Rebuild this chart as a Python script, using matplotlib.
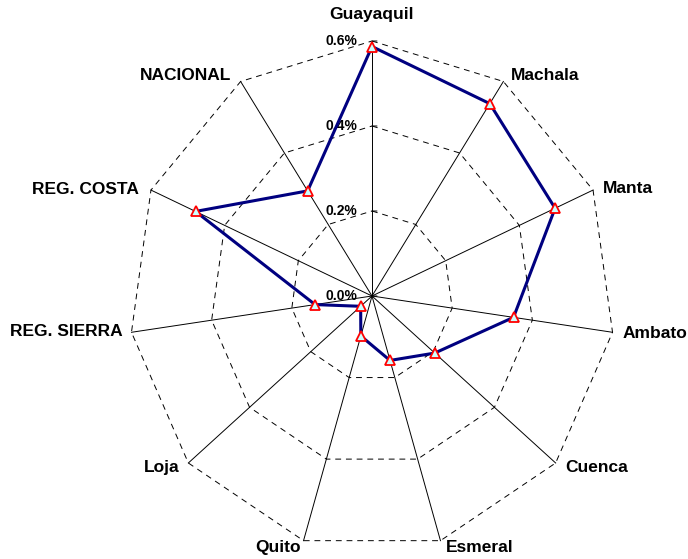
import numpy as np
import matplotlib
matplotlib.use("Agg")
import matplotlib.pyplot as plt

# categories clockwise from the top
categories = ["Guayaquil", "Machala", "Manta", "Ambato", "Cuenca", "Esmeral",
              "Quito", "Loja", "REG. SIERRA", "REG. COSTA", "NACIONAL"]
values = [0.587, 0.538, 0.497, 0.353, 0.205, 0.158, 0.098, 0.037, 0.142, 0.479, 0.294]
ring_levels = [0.2, 0.4, 0.6]
ring_labels = ["0.0%", "0.2%", "0.4%", "0.6%"]
rmax = 0.6

# label offsets from the spoke end, in pixels
label_offsets = [(0, 26), (7, 6), (10, 2), (10, -1), (10, -5), (5, -7),
                 (-3, -7), (-9, -5), (-9, 1), (-12, 1), (-9, 6)]
label_ha = ["center", "left", "left", "left", "left", "left",
            "right", "right", "right", "right", "right"]

plt.rcParams['font.family'] = ['Liberation Sans', 'DejaVu Sans']

n = len(categories)
ang = np.pi / 2 - np.arange(n) * 2 * np.pi / n
cs, sn = np.cos(ang), np.sin(ang)

fig = plt.figure(figsize=(6.88, 5.59), dpi=100)
ax = fig.add_axes([0, 0, 1, 1])
# chart is a bit narrower than tall, like the original
ax.set_xlim(-372 / 243 * rmax, 316 / 243 * rmax)
ax.set_ylim(-263 / 255 * rmax, 296 / 255 * rmax)
ax.axis('off')

# spokes
for c, s in zip(cs, sn):
    ax.plot([0, rmax * c], [0, rmax * s], color='black', lw=0.7, zorder=1)

# dashed rings
for r in ring_levels:
    xs = np.append(r * cs, r * cs[0])
    ys = np.append(r * sn, r * sn[0])
    ax.plot(xs, ys, color='black', lw=0.7, ls=(0, (6, 5)), zorder=1)

# value axis labels and ticks on the top spoke
for i, lab in enumerate(ring_labels):
    r = i * 0.2
    ax.annotate(lab, (0, r), xytext=(-15, 0), textcoords='offset pixels',
                ha='right', va='center', fontsize=10, fontweight='bold')
    ax.annotate("", (0, r), xytext=(5, 0), textcoords='offset pixels',
                arrowprops=dict(arrowstyle='-', lw=0.7, color='black',
                                shrinkA=0, shrinkB=0))

# data polygon
px = np.append(np.array(values) * cs, values[0] * cs[0])
py = np.append(np.array(values) * sn, values[0] * sn[0])
ax.plot(px, py, color='#000080', lw=2.2, zorder=3)
ax.plot(px[:-1], py[:-1], ls='none', marker='^', ms=7, mfc='#ccffff',
        mec='red', mew=1.3, zorder=4)

# category labels
for k, name in enumerate(categories):
    ax.annotate(name, (rmax * cs[k], rmax * sn[k]), xytext=label_offsets[k],
                textcoords='offset pixels', ha=label_ha[k], va='center',
                fontsize=12.5, fontweight='bold')

fig.savefig('out.png', dpi=100)
